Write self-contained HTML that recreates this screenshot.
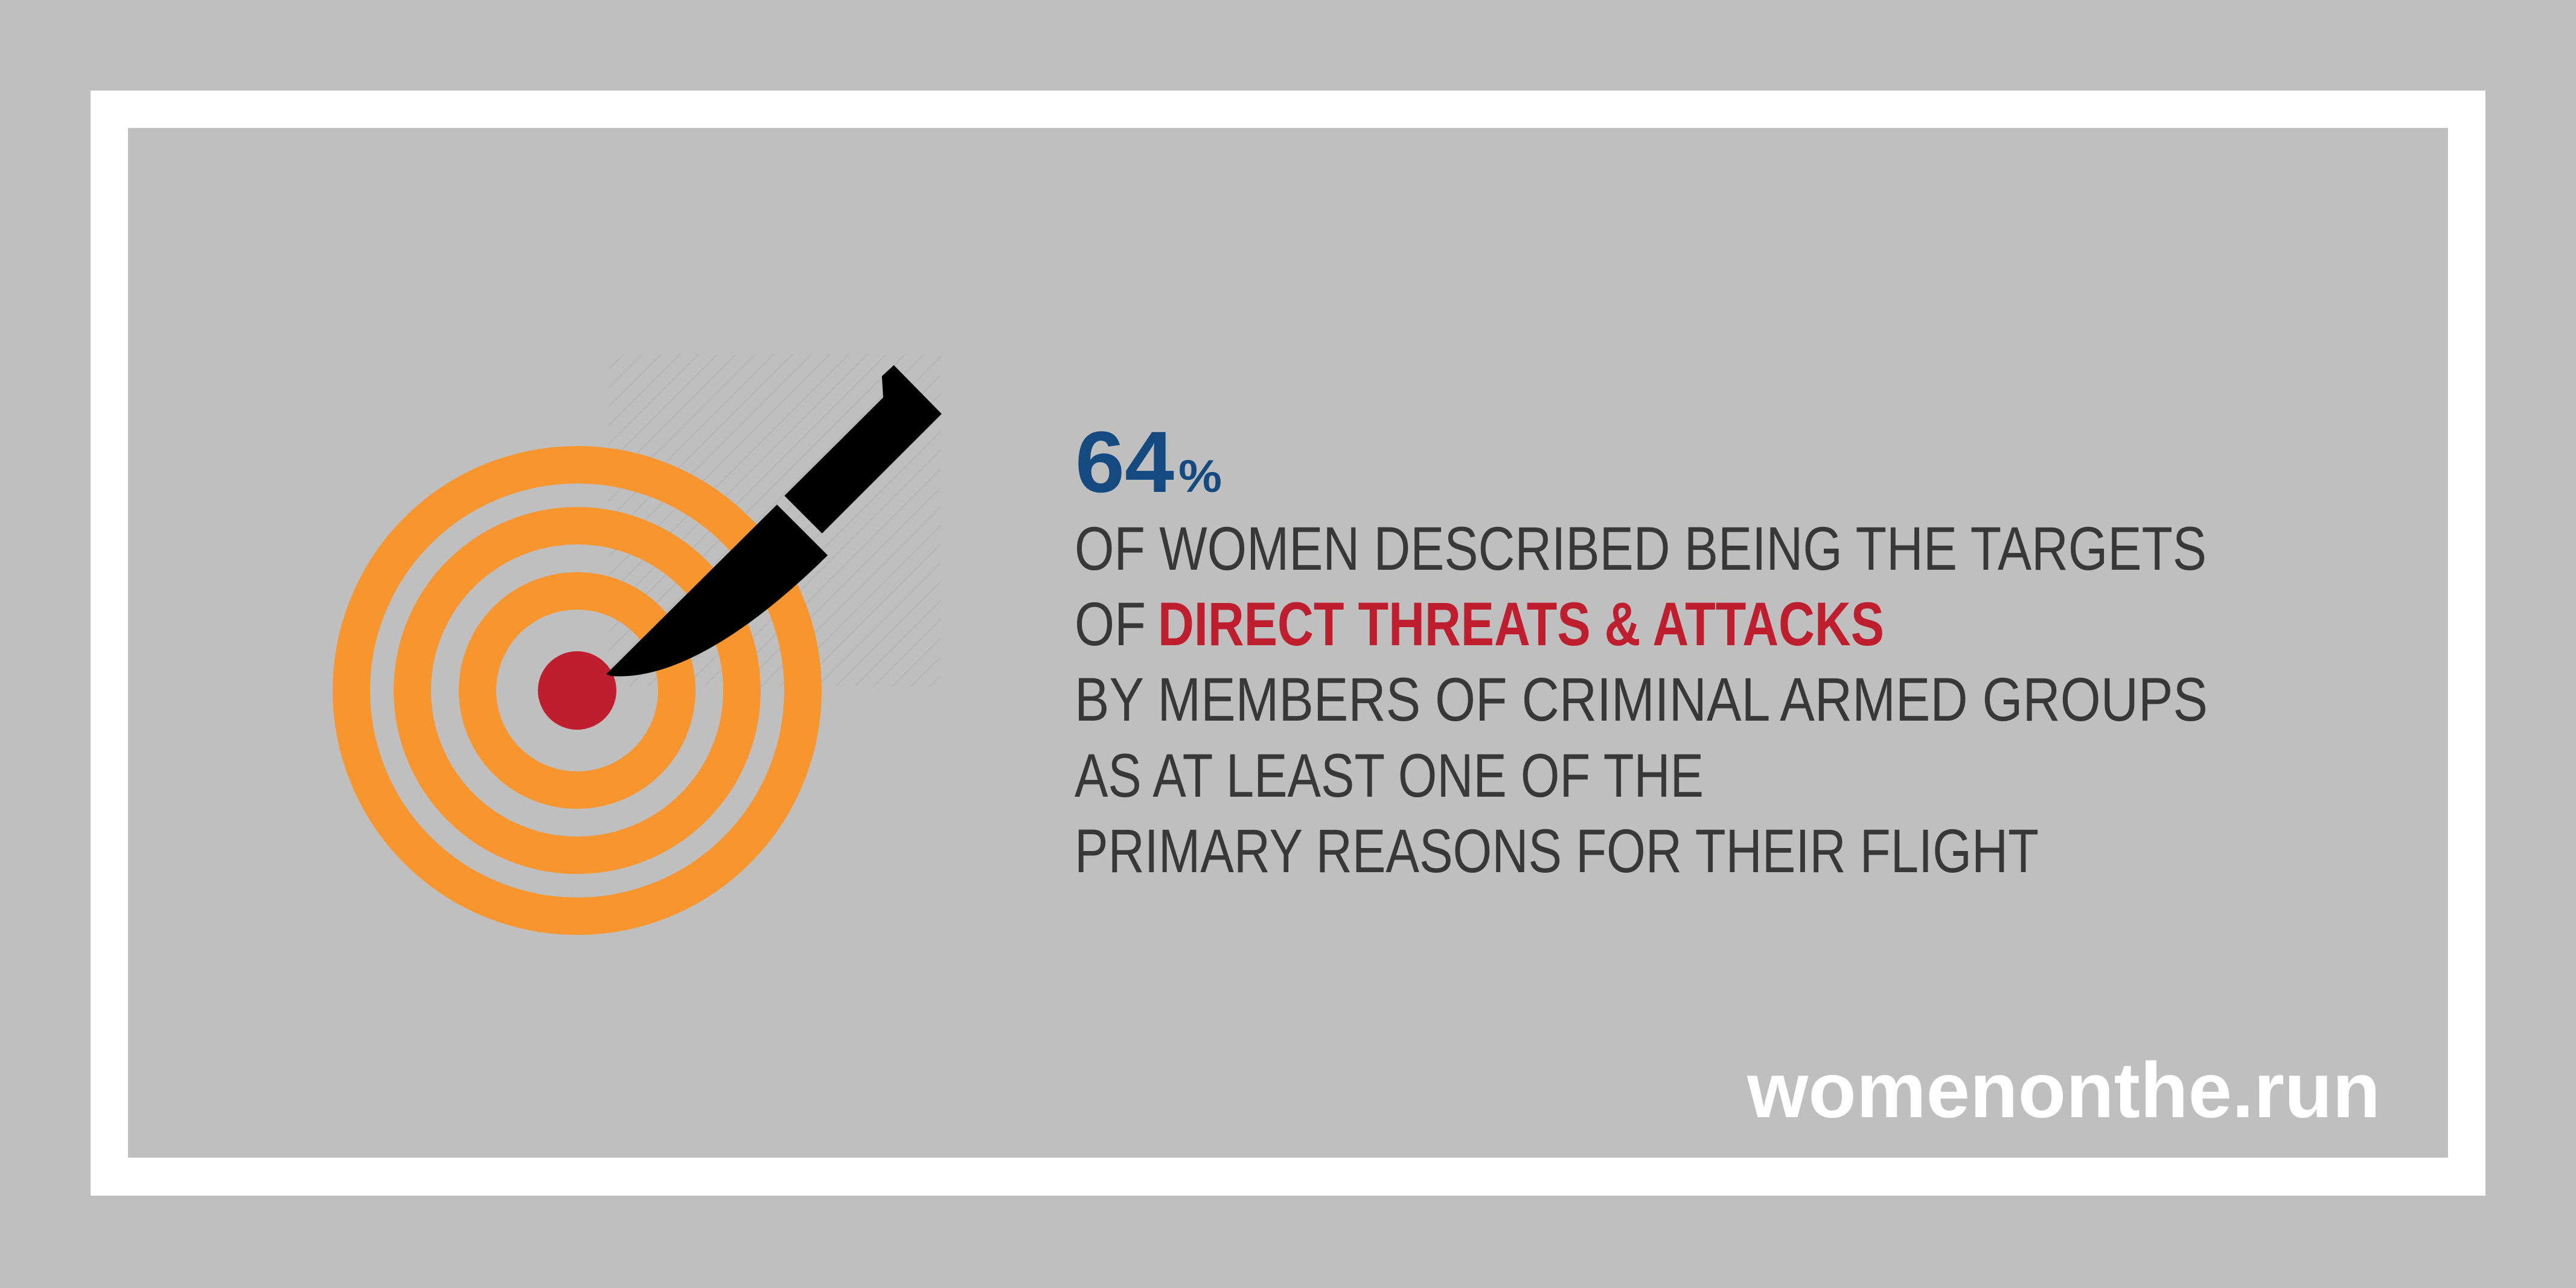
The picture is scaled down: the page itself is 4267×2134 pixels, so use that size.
<!DOCTYPE html>
<html><head><meta charset="utf-8"><style>
html,body{margin:0;padding:0;background:#bfbfbf;}
svg{display:block;}
</style></head><body>
<svg width="4267" height="2134" viewBox="0 0 4267 2134" xmlns="http://www.w3.org/2000/svg">
<defs>
<pattern id="hatch" width="22" height="22" patternUnits="userSpaceOnUse" patternTransform="rotate(45)">
<rect width="22" height="22" fill="#bfbfbf"/>
<line x1="0" y1="0" x2="0" y2="22" stroke="#b7b7b7" stroke-width="5"/>
</pattern>
</defs>
<rect x="0" y="0" width="4267" height="2134" fill="#bfbfbf"/>
<rect x="150" y="150" width="3967" height="1831" fill="#ffffff"/>
<rect x="212" y="212" width="3843" height="1706" fill="#bfbfbf"/>

<rect x="1008" y="587" width="550" height="550" fill="url(#hatch)"/>
<g fill="none" stroke="#f7952f" stroke-width="62">
<circle cx="956" cy="1144" r="374"/>
<circle cx="956" cy="1144" r="273"/>
<circle cx="956" cy="1144" r="165"/>
</g>
<circle cx="956" cy="1144" r="65" fill="#be1e2d"/>
<g fill="#000">
<path d="M1480.6,605 L1559.8,685.7 L1361.7,883.7 L1299.4,821.4 L1463,658.5 L1460.8,623.3 Z"/>
<path d="M1287,836 L1371,920 C1290,1000 1140,1130 1012,1120 L1004,1117 Z"/>
</g>

<g font-family="'Liberation Sans Narrow','Liberation Sans',sans-serif">
<text x="1781" y="815" font-size="144" font-weight="bold" fill="#154a80" textLength="164" lengthAdjust="spacingAndGlyphs">64</text>
<text x="1952" y="815" font-size="76" font-weight="bold" fill="#154a80" textLength="72" lengthAdjust="spacingAndGlyphs">%</text>
<g font-size="102" fill="#383838">
<text x="1780" y="944" textLength="1875" lengthAdjust="spacingAndGlyphs">OF WOMEN DESCRIBED BEING THE TARGETS</text>
<text x="1780" y="1069" textLength="118" lengthAdjust="spacingAndGlyphs">OF</text>
<text x="1918" y="1069" font-weight="bold" fill="#be1e2d" textLength="1203" lengthAdjust="spacingAndGlyphs">DIRECT THREATS &amp; ATTACKS</text>
<text x="1780" y="1194" textLength="1877" lengthAdjust="spacingAndGlyphs">BY MEMBERS OF CRIMINAL ARMED GROUPS</text>
<text x="1780" y="1320" textLength="1042" lengthAdjust="spacingAndGlyphs">AS AT LEAST ONE OF THE</text>
<text x="1780" y="1445" textLength="1597" lengthAdjust="spacingAndGlyphs">PRIMARY REASONS FOR THEIR FLIGHT</text>
</g>
</g>
<text x="2894" y="1851" font-family="'Liberation Sans',sans-serif" font-size="130" font-weight="bold" fill="#ffffff" textLength="1049" lengthAdjust="spacingAndGlyphs">womenonthe.run</text>
</svg>
</body></html>
